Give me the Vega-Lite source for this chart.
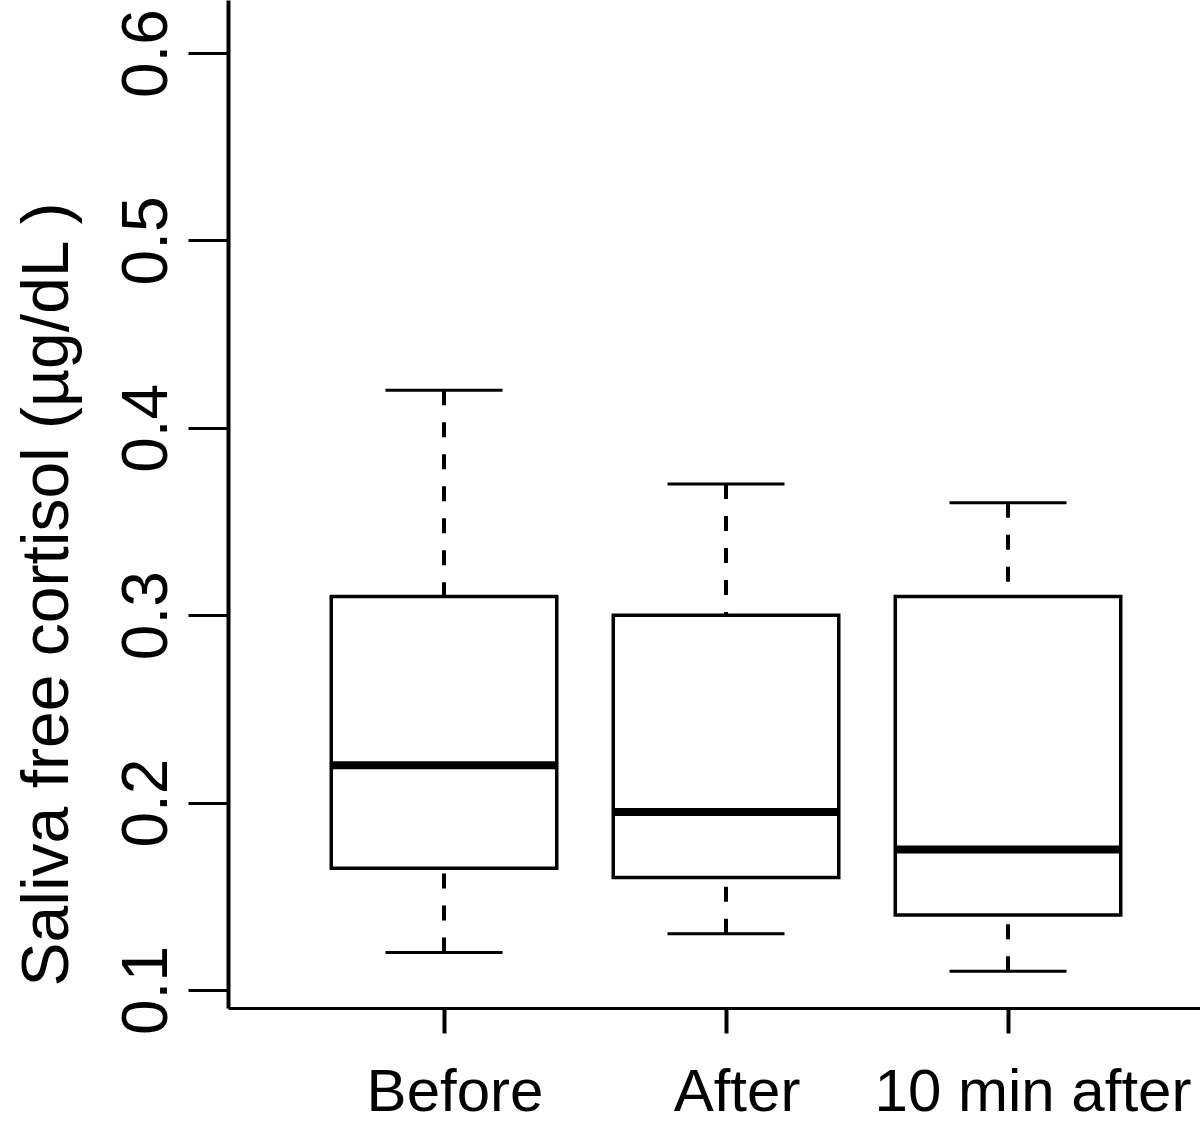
{
  "$schema": "https://vega.github.io/schema/vega-lite/v6.json",
  "width": 972,
  "height": 1008,
  "autosize": {"type": "none"},
  "padding": {"left": 228, "top": 0, "right": 0, "bottom": 116},
  "background": "white",
  "config": {"view": {"stroke": null}, "font": "Liberation Sans"},
  "data": {
    "values": [
      {"group": "Before", "lower": 0.12, "q1": 0.165, "median": 0.22, "q3": 0.31, "upper": 0.42},
      {"group": "After", "lower": 0.13, "q1": 0.16, "median": 0.195, "q3": 0.30, "upper": 0.37},
      {"group": "10 min after", "lower": 0.11, "q1": 0.14, "median": 0.175, "q3": 0.31, "upper": 0.36}
    ]
  },
  "encoding": {
    "x": {
      "field": "group",
      "type": "nominal",
      "sort": ["Before", "After", "10 min after"],
      "scale": {"type": "band", "paddingInner": 0.2004, "paddingOuter": 0.3236, "align": 0.5658},
      "axis": {
        "title": null,
        "labelAngle": 0,
        "labelFontSize": 60,
        "labelFont": "Liberation Sans",
        "labelColor": "black",
        "labelBaseline": "alphabetic",
        "labelPadding": 77,
        "labelLimit": 600,
        "labelOffset": {"condition": {"test": "datum.value === '10 min after'", "value": 25}, "value": 11},
        "tickSize": 25,
        "tickWidth": 4,
        "tickColor": "black",
        "domainColor": "black",
        "domainWidth": 3,
        "grid": false
      }
    }
  },
  "layer": [
    {
      "mark": {"type": "rule", "strokeDash": [15, 17], "strokeWidth": 4, "color": "black"},
      "encoding": {
        "y": {
          "field": "upper",
          "type": "quantitative",
          "title": "Saliva free cortisol (µg/dL )",
          "scale": {"domain": [0.0904, 0.6283], "nice": false, "zero": false},
          "axis": {
            "values": [0.1, 0.2, 0.3, 0.4, 0.5, 0.6],
            "format": ".1f",
            "grid": false,
            "tickSize": 40,
            "tickWidth": 3,
            "tickColor": "black",
            "domainColor": "black",
            "domainWidth": 4,
            "labelAngle": -90,
            "labelAlign": "center",
            "labelBaseline": "alphabetic",
            "labelPadding": 22,
            "labelFontSize": 64,
            "labelFont": "Liberation Sans Narrow, Liberation Sans",
            "labelColor": "black",
            "labelFlush": false,
            "labelOverlap": false,
            "titleFontSize": 66,
            "titleFont": "Liberation Sans",
            "titleColor": "black",
            "titleFontWeight": "normal",
            "titleAngle": -90,
            "titleX": -161,
            "titleY": 594,
            "titleAlign": "center",
            "titleBaseline": "alphabetic",
            "titleLimit": 1100
          }
        },
        "y2": {"field": "q3"}
      }
    },
    {
      "mark": {"type": "rule", "strokeDash": [15, 17], "strokeWidth": 4, "color": "black"},
      "encoding": {
        "y": {"field": "lower", "type": "quantitative", "title": "Saliva free cortisol (µg/dL )"},
        "y2": {"field": "q1"}
      }
    },
    {
      "mark": {"type": "bar", "fill": "white", "stroke": "black", "strokeWidth": 3.5},
      "encoding": {
        "y": {"field": "q1", "type": "quantitative", "title": "Saliva free cortisol (µg/dL )"},
        "y2": {"field": "q3"}
      }
    },
    {
      "mark": {"type": "tick", "size": 117, "thickness": 3, "color": "black", "opacity": 1},
      "encoding": {
        "y": {"field": "upper", "type": "quantitative", "title": "Saliva free cortisol (µg/dL )"}
      }
    },
    {
      "mark": {"type": "tick", "size": 117, "thickness": 3, "color": "black", "opacity": 1},
      "encoding": {
        "y": {"field": "lower", "type": "quantitative", "title": "Saliva free cortisol (µg/dL )"}
      }
    },
    {
      "mark": {"type": "tick", "size": 226, "thickness": 8, "color": "black", "opacity": 1},
      "encoding": {
        "y": {"field": "median", "type": "quantitative", "title": "Saliva free cortisol (µg/dL )"}
      }
    }
  ]
}
